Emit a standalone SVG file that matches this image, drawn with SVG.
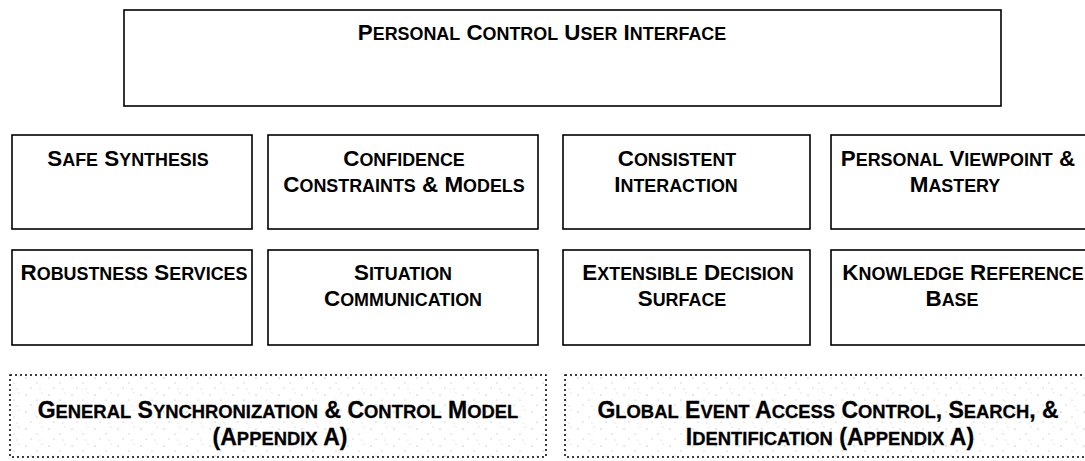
<svg xmlns="http://www.w3.org/2000/svg" width="1085" height="461" viewBox="0 0 1085 461">
<defs>
<style>
.box{fill:#fff;stroke:#000;stroke-width:1.6}
.dbox{fill:url(#speck);stroke:#000;stroke-width:1.5;stroke-dasharray:2 3}
.t{font-family:"Liberation Sans",Arial,sans-serif;font-weight:bold;font-size:22.4px;text-anchor:middle;fill:#000}
.tb{font-family:"Liberation Sans",Arial,sans-serif;font-weight:bold;font-size:23px;text-anchor:middle;fill:#000;stroke:#000;stroke-width:0.3}
.s{font-size:17.9px}
.sb{font-size:18.4px}
</style>
<pattern id="speck" width="23" height="17" patternUnits="userSpaceOnUse">
<rect width="23" height="17" fill="#fff"/>
<circle cx="3" cy="4" r="0.6" fill="#999"/>
<circle cx="14" cy="9" r="0.6" fill="#aaa"/>
<circle cx="19" cy="2" r="0.5" fill="#bbb"/>
<circle cx="8" cy="14" r="0.6" fill="#aaa"/>
<circle cx="17" cy="15" r="0.5" fill="#bbb"/>
</pattern>
</defs>
<g id="n-pcui"><rect class="box" x="124" y="10" width="877" height="96"/><text class="t" x="542" y="40">P<tspan class="s">ERSONAL</tspan> C<tspan class="s">ONTROL</tspan> U<tspan class="s">SER</tspan> I<tspan class="s">NTERFACE</tspan></text></g>
<g id="n-safe"><rect class="box" x="12" y="135" width="240" height="94"/><text class="t" x="128" y="166">S<tspan class="s">AFE</tspan> S<tspan class="s">YNTHESIS</tspan></text></g>
<g id="n-conf"><rect class="box" x="268" y="135" width="270" height="94"/><text class="t" x="404" y="166">C<tspan class="s">ONFIDENCE</tspan></text><text class="t" x="404" y="192">C<tspan class="s">ONSTRAINTS</tspan>  &amp;  M<tspan class="s">ODELS</tspan></text></g>
<g id="n-cons"><rect class="box" x="563" y="135" width="247" height="94"/><text class="t" x="677" y="166">C<tspan class="s">ONSISTENT</tspan></text><text class="t" x="676" y="192">I<tspan class="s">NTERACTION</tspan></text></g>
<g id="n-pers"><rect class="box" x="831" y="135" width="260" height="94"/><text class="t" x="958" y="166">P<tspan class="s">ERSONAL</tspan> V<tspan class="s">IEWPOINT</tspan> &amp;</text><text class="t" x="955" y="192">M<tspan class="s">ASTERY</tspan></text></g>
<g id="n-robu"><rect class="box" x="12" y="250" width="240" height="95"/><text class="t" x="134" y="280">R<tspan class="s">OBUSTNESS</tspan> S<tspan class="s">ERVICES</tspan></text></g>
<g id="n-situ"><rect class="box" x="268" y="250" width="270" height="95"/><text class="t" x="403" y="280">S<tspan class="s">ITUATION</tspan></text><text class="t" x="403" y="306">C<tspan class="s">OMMUNICATION</tspan></text></g>
<g id="n-exte"><rect class="box" x="563" y="250" width="247" height="95"/><text class="t" x="688" y="280">E<tspan class="s">XTENSIBLE</tspan> D<tspan class="s">ECISION</tspan></text><text class="t" x="682" y="306">S<tspan class="s">URFACE</tspan></text></g>
<g id="n-know"><rect class="box" x="831" y="250" width="260" height="95"/><text class="t" x="963" y="280">K<tspan class="s">NOWLEDGE</tspan> R<tspan class="s">EFERENCE</tspan></text><text class="t" x="952" y="306">B<tspan class="s">ASE</tspan></text></g>
<g id="n-gen"><rect class="dbox" x="10" y="375" width="536" height="82"/><text class="tb" x="278" y="418">G<tspan class="sb">ENERAL</tspan> S<tspan class="sb">YNCHRONIZATION</tspan> &amp; C<tspan class="sb">ONTROL</tspan> M<tspan class="sb">ODEL</tspan></text><text class="tb" x="280" y="445">(A<tspan class="sb">PPENDIX</tspan> A)</text></g>
<g id="n-glob"><rect class="dbox" x="565" y="375" width="526" height="82"/><text class="tb" x="828" y="418">G<tspan class="sb">LOBAL</tspan> E<tspan class="sb">VENT</tspan> A<tspan class="sb">CCESS</tspan> C<tspan class="sb">ONTROL</tspan>, S<tspan class="sb">EARCH</tspan>, &amp;</text><text class="tb" x="830" y="445">I<tspan class="sb">DENTIFICATION</tspan> (A<tspan class="sb">PPENDIX</tspan> A)</text></g>
<g id="connectors"></g>
</svg>
